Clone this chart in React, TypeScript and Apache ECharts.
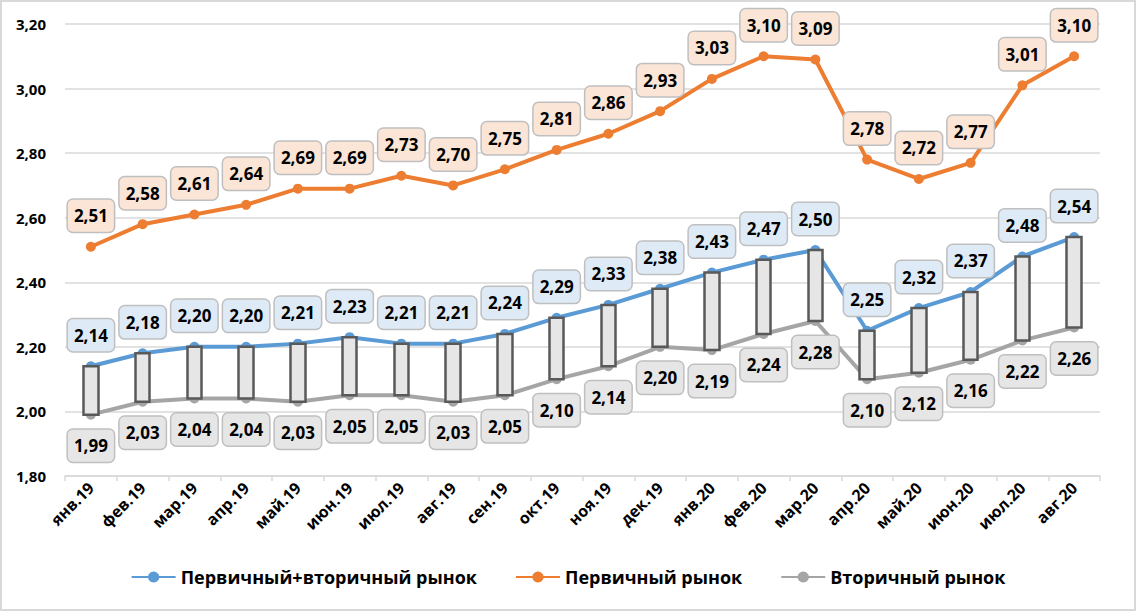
import React, { useEffect, useRef } from "react";
import * as echarts from "echarts";

const categories = [
  "янв.19", "фев.19", "мар.19", "апр.19", "май.19", "июн.19", "июл.19", "авг.19",
  "сен.19", "окт.19", "ноя.19", "дек.19", "янв.20", "фев.20", "мар.20", "апр.20",
  "май.20", "июн.20", "июл.20", "авг.20",
];
const combined = [2.14, 2.18, 2.2, 2.2, 2.21, 2.23, 2.21, 2.21, 2.24, 2.29, 2.33, 2.38, 2.43, 2.47, 2.5, 2.25, 2.32, 2.37, 2.48, 2.54];
const primary = [2.51, 2.58, 2.61, 2.64, 2.69, 2.69, 2.73, 2.7, 2.75, 2.81, 2.86, 2.93, 3.03, 3.1, 3.09, 2.78, 2.72, 2.77, 3.01, 3.1];
const secondary = [1.99, 2.03, 2.04, 2.04, 2.03, 2.05, 2.05, 2.03, 2.05, 2.1, 2.14, 2.2, 2.19, 2.24, 2.28, 2.1, 2.12, 2.16, 2.22, 2.26];
const seriesNames = ["Первичный+вторичный рынок", "Первичный рынок", "Вторичный рынок"];

const FONT = "'Open Sans', 'Noto Sans', sans-serif";
const fmt = (v: number) => v.toFixed(2).replace(".", ",");

function labelStyle(bg: string, position: string) {
  return {
    show: true,
    position,
    distance: 10,
    formatter: (p: any) => fmt(p.value),
    fontFamily: FONT,
    fontWeight: "bold",
    fontSize: 17,
    lineHeight: 20,
    color: "#000",
    backgroundColor: bg,
    borderColor: "#bfbfbf",
    borderWidth: 1.5,
    borderRadius: 5,
    padding: [6, 6, 6, 6],
  };
}

export default function App() {
  const ref = useRef<HTMLDivElement>(null);
  useEffect(() => {
    if (!ref.current) return;
    const chart = echarts.init(ref.current, null, { renderer: "svg" });
    chart.setOption({
      animation: false,
      backgroundColor: "#ffffff",
      graphic: [
        {
          type: "rect",
          shape: { x: 1, y: 1, width: 1134, height: 609 },
          style: { fill: "none", stroke: "#d9d9d9", lineWidth: 2 },
          silent: true,
        },
      ],
      grid: { left: 65, right: 36, top: 24, bottom: 135 },
      legend: {
        data: seriesNames,
        bottom: 20,
        left: "center",
        itemWidth: 44,
        itemHeight: 14,
        itemGap: 38,
        textStyle: { fontFamily: FONT, fontWeight: "bold", fontSize: 18, color: "#000" },
      },
      xAxis: {
        type: "category",
        data: categories,
        boundaryGap: true,
        axisLine: { lineStyle: { color: "#d9d9d9", width: 1.5 } },
        axisTick: { show: true, length: 5, lineStyle: { color: "#d9d9d9", width: 1.5 } },
        axisLabel: {
          rotate: 45,
          fontFamily: FONT,
          fontWeight: "bold",
          fontSize: 16,
          color: "#000",
          margin: 9,
          interval: 0,
        },
      },
      yAxis: {
        type: "value",
        min: 1.8,
        max: 3.2,
        interval: 0.2,
        axisLine: { show: false },
        axisTick: { show: false },
        splitLine: { lineStyle: { color: "#d9d9d9", width: 1.5 } },
        axisLabel: {
          formatter: (v: number) => fmt(v),
          fontFamily: FONT,
          fontWeight: "bold",
          fontSize: 15,
          color: "#000",
          margin: 19,
        },
      },
      series: [
        {
          name: seriesNames[0],
          type: "line",
          data: combined,
          z: 2,
          symbol: "circle",
          symbolSize: 10,
          lineStyle: { color: "#5b9bd5", width: 4 },
          itemStyle: { color: "#5b9bd5" },
          label: labelStyle("#deebf7", "top"),
        },
        {
          name: seriesNames[1],
          type: "line",
          data: primary,
          z: 2,
          symbol: "circle",
          symbolSize: 10,
          lineStyle: { color: "#ed7d31", width: 4 },
          itemStyle: { color: "#ed7d31" },
          label: labelStyle("#fbe5d6", "top"),
        },
        {
          name: seriesNames[2],
          type: "line",
          data: secondary,
          z: 2,
          symbol: "circle",
          symbolSize: 10,
          lineStyle: { color: "#a5a5a5", width: 4 },
          itemStyle: { color: "#a5a5a5" },
          label: labelStyle("#e7e6e6", "bottom"),
        },
        {
          name: "updown",
          type: "candlestick",
          z: 3,
          barWidth: 15,
          data: categories.map((_, i) => [secondary[i], combined[i], secondary[i], combined[i]]),
          itemStyle: {
            color: "#e6e6e6",
            color0: "#e6e6e6",
            borderColor: "#595959",
            borderColor0: "#595959",
            borderWidth: 2.5,
          },
        },
      ],
    });
    return () => chart.dispose();
  }, []);
  return (
    <div style={{ position: "absolute", left: 0, top: 0, width: 1136, height: 611 }}>
      <div ref={ref} style={{ width: 1136, height: 611 }} />
    </div>
  );
}
